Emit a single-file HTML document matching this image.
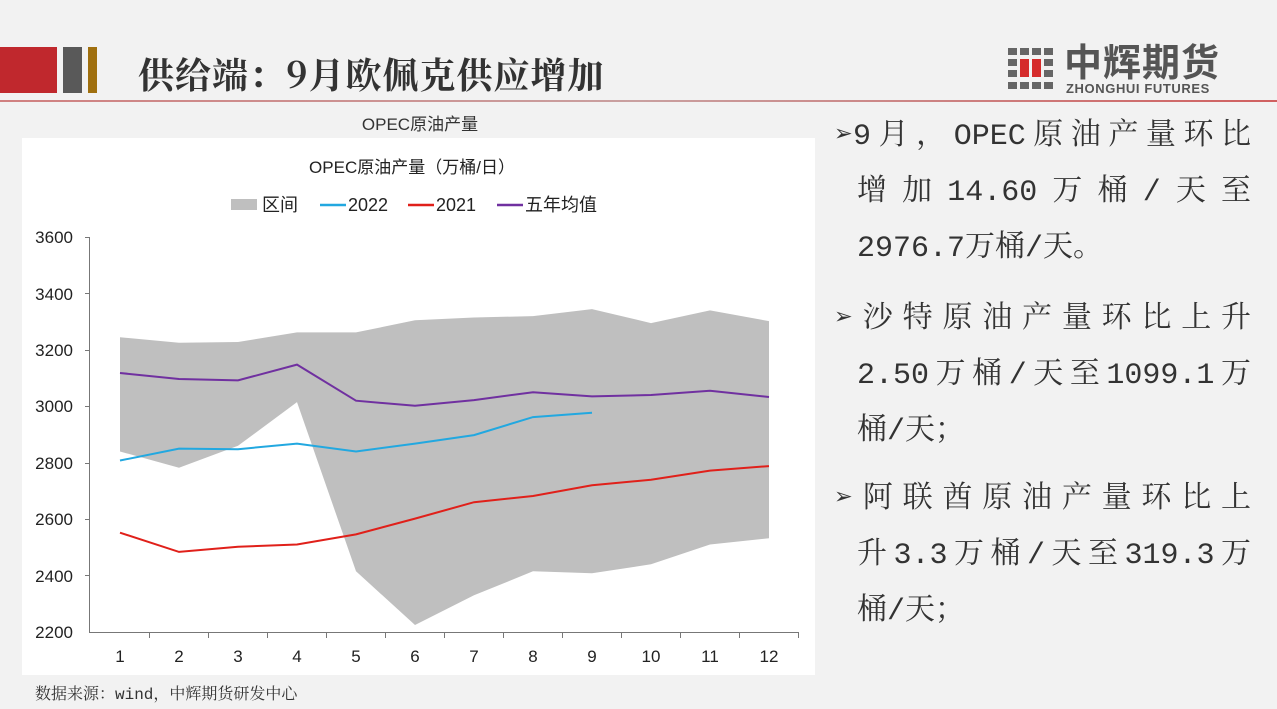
<!DOCTYPE html>
<html><head><meta charset="utf-8"><style>
body{margin:0;width:1277px;height:709px;background:#f2f2f2;position:relative;overflow:hidden;font-family:"Liberation Sans","Noto Sans CJK SC",sans-serif;}
.a{position:absolute;white-space:nowrap;}
.r{position:absolute;font-family:"Liberation Mono","Noto Serif CJK SC",monospace;font-size:30px;color:#333;line-height:34px;text-align:justify;text-align-last:justify;white-space:nowrap;}
</style></head><body>
<div class="a" style="left:0;top:47px;width:57px;height:46px;background:#c0282d"></div>
<div class="a" style="left:63px;top:47px;width:19px;height:46px;background:#595959"></div>
<div class="a" style="left:88px;top:47px;width:9px;height:46px;background:#a0700f"></div>
<div class="a" style="left:138px;top:48px;font-size:36px;font-weight:bold;color:#333;font-family:'Noto Serif CJK SC',serif;letter-spacing:1px">供给端：9月欧佩克供应增加</div>
<div class="a" style="left:0;top:100px;width:1277px;height:2px;background:linear-gradient(90deg,#d08080,#c9a0a0 50%,#d06060)"></div>
<svg class="a" style="left:1008px;top:48px" width="48" height="42">
<g fill="#666"><rect x="0" y="0" width="9" height="7"/><rect x="12" y="0" width="9" height="7"/><rect x="24" y="0" width="9" height="7"/><rect x="36" y="0" width="9" height="7"/>
<rect x="0" y="11" width="9" height="7"/><rect x="36" y="11" width="9" height="7"/><rect x="0" y="22" width="9" height="7"/><rect x="36" y="22" width="9" height="7"/>
<rect x="0" y="34" width="9" height="7"/><rect x="12" y="34" width="9" height="7"/><rect x="24" y="34" width="9" height="7"/><rect x="36" y="34" width="9" height="7"/></g>
<rect x="12" y="11" width="9" height="18" fill="#d52b2b"/><rect x="24" y="11" width="9" height="18" fill="#d52b2b"/></svg>
<div class="a" style="left:1064px;top:44px;font-size:38px;line-height:40px;font-weight:bold;color:#555;letter-spacing:1px">中辉期货</div>
<div class="a" style="left:1066px;top:81px;font-size:13px;line-height:15px;font-weight:bold;color:#555;letter-spacing:0.6px">ZHONGHUI FUTURES</div>
<div class="a" style="left:22px;top:138px;width:793px;height:537px;background:#fff"></div>
<div class="a" style="left:0;top:110px;width:840px;text-align:center;font-size:17px;color:#333">OPEC原油产量</div>
<svg class="a" style="left:0;top:0" width="830" height="709" font-family="Liberation Sans,Noto Sans CJK SC,sans-serif">
<text x="412" y="173" font-size="17" text-anchor="middle" fill="#222">OPEC原油产量（万桶/日）</text>
<rect x="231" y="199" width="26" height="11" fill="#bfbfbf"/><text x="262" y="211" font-size="18" fill="#222">区间</text>
<line x1="320" y1="205" x2="346" y2="205" stroke="#22a8e0" stroke-width="2.5"/><text x="348" y="211" font-size="18" fill="#222">2022</text>
<line x1="408" y1="205" x2="434" y2="205" stroke="#e0201a" stroke-width="2.5"/><text x="436" y="211" font-size="18" fill="#222">2021</text>
<line x1="497" y1="205" x2="523" y2="205" stroke="#7030a0" stroke-width="2.5"/><text x="525" y="211" font-size="18" fill="#222">五年均值</text>
<polygon fill="#bfbfbf" points="120,337.2 179,342.8 238,342 297,332.4 356,332.4 415,320.3 474,317.5 533,316.1 592,309.1 651,323.1 710,310.4 769,321.1 769,538.3 710,544.5 651,564.3 592,573.3 533,571.3 474,595.3 415,625 356,571.3 297,402.1 238,445.8 179,467.8 120,451.5"/>
<polyline fill="none" stroke="#7030a0" stroke-width="2" points="120,373 179,379 238,380.4 297,364.6 356,400.7 415,405.8 474,400.1 533,392.2 592,396.4 651,395 710,390.8 769,397"/>
<polyline fill="none" stroke="#22a8e0" stroke-width="2" points="120,460.5 179,448.6 238,449.2 297,443.6 356,451.5 415,443.6 474,435.1 533,417.1 592,412.8"/>
<polyline fill="none" stroke="#e0201a" stroke-width="2" points="120,532.7 179,551.9 238,546.8 297,544.5 356,534.4 415,518.6 474,502.2 533,496 592,485.3 651,479.7 710,470.6 769,466.1"/>
<g stroke="#777" stroke-width="1"><line x1="89.5" y1="237" x2="89.5" y2="633"/><line x1="89" y1="632.5" x2="799" y2="632.5"/>
<line x1="85" y1="237.5" x2="89" y2="237.5"/><line x1="85" y1="293.5" x2="89" y2="293.5"/><line x1="85" y1="350.5" x2="89" y2="350.5"/><line x1="85" y1="406.5" x2="89" y2="406.5"/><line x1="85" y1="463.5" x2="89" y2="463.5"/><line x1="85" y1="519.5" x2="89" y2="519.5"/><line x1="85" y1="575.5" x2="89" y2="575.5"/>
<line x1="149.5" y1="632" x2="149.5" y2="638"/><line x1="208.5" y1="632" x2="208.5" y2="638"/><line x1="267.5" y1="632" x2="267.5" y2="638"/><line x1="326.5" y1="632" x2="326.5" y2="638"/><line x1="385.5" y1="632" x2="385.5" y2="638"/><line x1="444.5" y1="632" x2="444.5" y2="638"/><line x1="503.5" y1="632" x2="503.5" y2="638"/><line x1="562.5" y1="632" x2="562.5" y2="638"/><line x1="621.5" y1="632" x2="621.5" y2="638"/><line x1="680.5" y1="632" x2="680.5" y2="638"/><line x1="739.5" y1="632" x2="739.5" y2="638"/><line x1="798.5" y1="632" x2="798.5" y2="638"/></g>
<g font-size="17" fill="#222" text-anchor="end"><text x="73" y="243">3600</text><text x="73" y="300">3400</text><text x="73" y="356">3200</text><text x="73" y="412">3000</text><text x="73" y="469">2800</text><text x="73" y="525">2600</text><text x="73" y="582">2400</text><text x="73" y="638">2200</text></g>
<g font-size="17" fill="#222" text-anchor="middle"><text x="120" y="662">1</text><text x="179" y="662">2</text><text x="238" y="662">3</text><text x="297" y="662">4</text><text x="356" y="662">5</text><text x="415" y="662">6</text><text x="474" y="662">7</text><text x="533" y="662">8</text><text x="592" y="662">9</text><text x="651" y="662">10</text><text x="710" y="662">11</text><text x="769" y="662">12</text></g>
</svg>
<div class="a" style="left:35px;top:681px;font-size:16px;color:#333;font-family:'Liberation Mono','Noto Serif CJK SC',monospace">数据来源：wind，中辉期货研发中心</div>
<div class="r" style="left:835px;top:120px;width:416px">➢9月，OPEC原油产量环比</div>
<div class="r" style="left:857px;top:176px;width:394px">增加14.60万桶/天至</div>
<div class="r" style="left:857px;top:232px;text-align-last:left">2976.7万桶/天。</div>
<div class="r" style="left:835px;top:303px;width:416px">➢沙特原油产量环比上升</div>
<div class="r" style="left:857px;top:359px;width:394px">2.50万桶/天至1099.1万</div>
<div class="r" style="left:857px;top:415px;text-align-last:left">桶/天；</div>
<div class="r" style="left:835px;top:483px;width:416px">➢阿联酋原油产量环比上</div>
<div class="r" style="left:857px;top:539px;width:394px">升3.3万桶/天至319.3万</div>
<div class="r" style="left:857px;top:595px;text-align-last:left">桶/天；</div>
</body></html>
